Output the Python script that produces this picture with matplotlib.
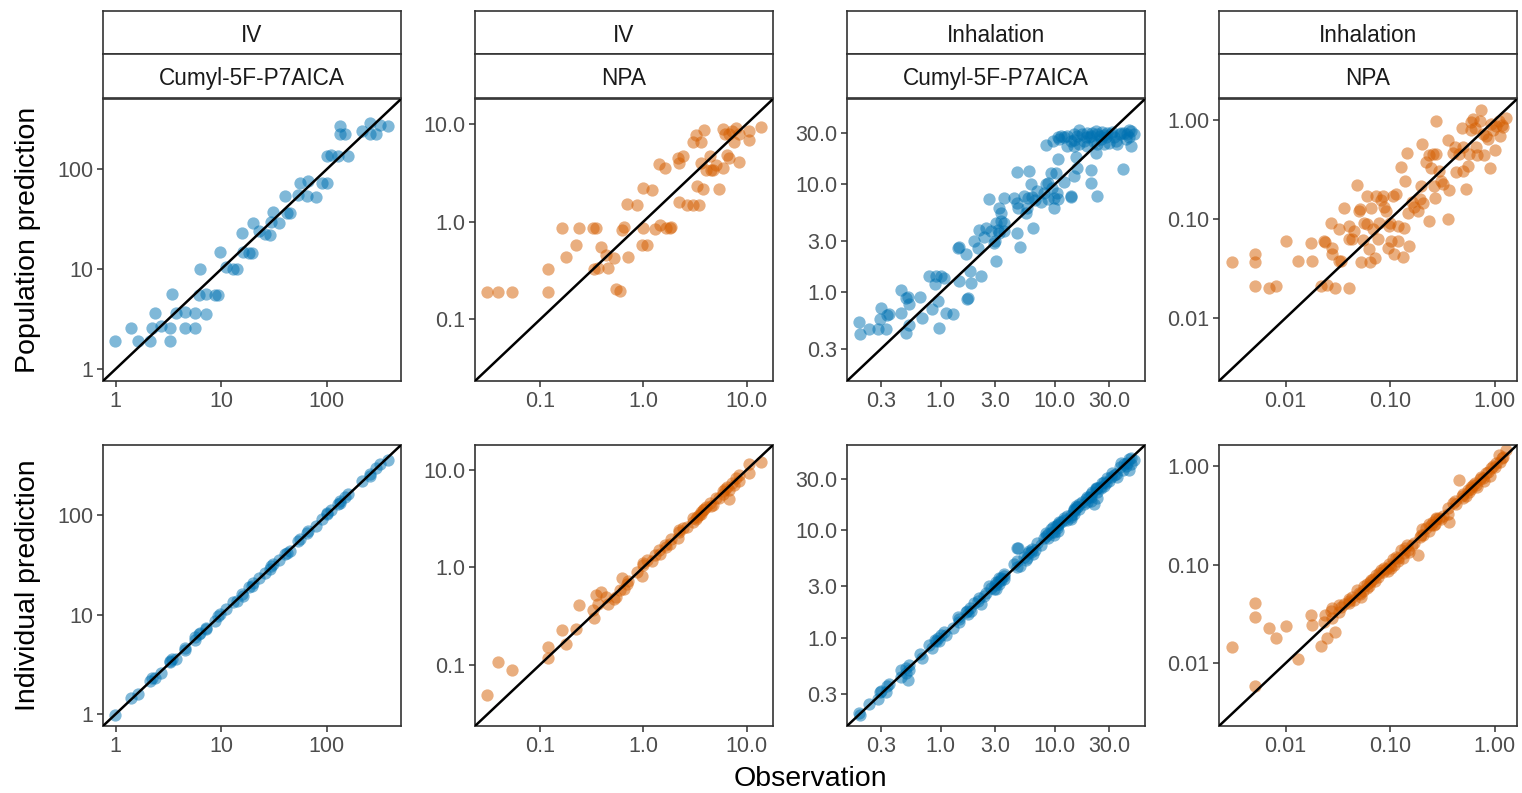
import numpy as np
import matplotlib
matplotlib.use("Agg")
import matplotlib.pyplot as plt

plt.rcParams['font.family'] = ['Liberation Sans', 'DejaVu Sans']

# facet labels
routes = ["IV", "IV", "Inhalation", "Inhalation"]
compounds = ["Cumyl-5F-P7AICA", "NPA", "Cumyl-5F-P7AICA", "NPA"]
colors = ["#0072B2", "#D55E00", "#0072B2", "#D55E00"]

# IV / Cumyl-5F-P7AICA
obs1 = [0.98, 1.41, 1.63, 2.1, 2.2, 2.34, 2.7, 3.26, 3.3, 3.45, 3.7, 4.5, 4.5, 5.7, 5.6,
        6.2, 7.25, 6.3, 7.25, 8.7, 9.4, 9.7, 11.2, 13, 14, 15.9, 16, 18.4, 19.5, 20,
        23, 26, 29, 30, 31, 35, 40, 42, 45, 56, 54, 65, 67, 79, 90, 100, 100, 111, 129,
        134, 134, 149, 161, 215, 257, 257, 293, 320, 385]
pop1 = [1.89, 2.6, 1.89, 1.89, 2.6, 3.6, 2.7, 1.89, 2.6, 5.6, 3.6, 3.7, 2.6, 3.6, 2.6,
        5.5, 3.55, 10.0, 5.7, 5.5, 5.5, 14.8, 10.6, 10, 10, 23, 15, 14.6, 14.4, 29,
        24, 22.5, 22, 29.6, 37, 29, 54, 36.5, 36.5, 73, 56, 54, 77, 53, 73, 73, 136, 141, 136,
        273, 225, 225, 136, 244, 290, 228, 228, 280, 273]
ind1 = [0.97, 1.45, 1.6, 2.15, 2.3, 2.3, 2.6, 3.3, 3.4, 3.6, 3.6, 4.6, 4.4, 5.9, 5.5,
        6.4, 7.1, 6.6, 7.4, 8.6, 9.6, 10.2, 11.5, 13.3, 13.6, 16.2, 15.5, 18.8, 19.2, 21,
        23.5, 26.5, 28.5, 31, 32, 35.5, 41, 42, 44, 58, 55, 66, 69, 78, 92, 102, 104, 113, 131,
        140, 133, 152, 164, 222, 262, 250, 300, 330, 360]

# IV / NPA
obs2 = [0.0306, 0.039, 0.054, 0.12, 0.12, 0.164, 0.18, 0.224, 0.237, 0.324, 0.35, 0.33, 0.366, 0.385, 0.43,
        0.45, 0.52, 0.547, 0.6, 0.625, 0.65, 0.715, 0.7, 0.87, 0.96, 1.0, 1.0, 1.09, 1.22, 1.3,
        1.42, 1.44, 1.62, 1.65, 1.8, 1.84, 2.14, 2.2, 2.22, 2.43, 2.67, 3.0, 3.22, 3.0, 3.27,
        3.47, 3.6, 3.6, 3.88, 3.74, 4.0, 4.4, 4.5, 5.0, 5.35, 5.9, 5.9, 6.2, 6.5, 6.8,
        7.2, 7.6, 7.9, 8.5, 8.5, 10.6, 10.6, 13.8, 6.7, 4.75]
pop2 = [0.191, 0.191, 0.191, 0.191, 0.33, 0.855, 0.43, 0.576, 0.87, 0.855, 0.87, 0.33, 0.336, 0.55, 0.455,
        0.336, 0.42, 0.206, 0.194, 0.82, 0.89, 0.43, 1.5, 1.48, 0.576, 0.855, 2.2, 0.576, 2.1, 0.84,
        3.9, 0.92, 3.5, 0.87, 0.87, 0.89, 4.5, 1.58, 3.97, 4.65, 1.48, 1.48, 7.65, 6.5, 2.29,
        1.48, 6.6, 3.97, 8.7, 2.17, 3.4, 4.65, 3.4, 3.8, 2.15, 3.5, 8.95, 7.9, 4.77, 7.8,
        8.5, 6.6, 9.1, 7.8, 4.1, 8.5, 6.9, 9.3, 4.5, 3.4]
ind2 = [0.049, 0.107, 0.088, 0.118, 0.153, 0.227, 0.164, 0.234, 0.41, 0.36, 0.52, 0.3, 0.42, 0.55, 0.5,
        0.42, 0.47, 0.5, 0.58, 0.77, 0.6, 0.72, 0.68, 0.9, 0.82, 1.05, 1.1, 1.2, 1.15, 1.35,
        1.5, 1.38, 1.7, 1.6, 1.75, 1.95, 2.0, 2.4, 2.3, 2.5, 2.6, 2.9, 3.1, 3.2, 3.3,
        3.4, 3.7, 3.5, 4.0, 3.9, 4.2, 4.6, 4.3, 5.2, 5.1, 6.0, 5.6, 6.3, 6.6, 6.2,
        7.3, 7.0, 8.2, 7.6, 8.8, 11.5, 9.2, 12.0, 5.0, 4.4]

# Inhalation / Cumyl-5F-P7AICA
obs3 = [0.192, 0.196, 0.235, 0.278, 0.293, 0.3, 0.33, 0.336, 0.35, 0.45, 0.45, 0.49, 0.51, 0.53, 0.49,
        0.53, 0.66, 0.68, 0.79, 0.9, 0.83, 0.89, 0.97, 0.95, 1.0, 1.07, 1.1, 1.27, 1.45, 1.74,
        1.71, 1.8, 1.83, 1.42, 1.45, 1.66, 1.96, 2.14, 2.24, 2.17, 2.48, 2.4, 2.75, 2.94, 3.04,
        2.97, 3.04, 3.18, 3.25, 3.36, 3.6, 3.55, 3.25, 3.36, 2.65, 3.55, 4.7, 5.0, 6.4, 4.4,
        4.65, 4.76, 5.38, 5.67, 5.8, 5.57, 6.35, 6.7, 7.0, 7.5, 8.1, 8.35, 8.74, 9.5, 9.85,
        9.85, 10.4, 8.74, 4.7, 5.9, 6.15, 9.2, 10.2, 10.6, 12.1, 13.8, 14, 14.8, 15.8, 15.3,
        21, 20.7, 23.4, 23, 40, 8.35, 9.7, 10.9, 12.1, 12.9, 13.8, 14.8, 15.8, 16.3, 17.5,
        18.1, 19.1, 20, 21.4, 22.2, 23.7, 25, 26.1, 28, 29, 31, 33, 35.5, 37.5, 40.5,
        43, 44.8, 46.4, 47, 49.7, 12.9, 14.8, 19.1, 23.7, 27, 30, 10.6, 11.3, 16.3, 20.8,
        25.3, 32, 42, 34.3, 23, 18.8, 14.8, 27, 38, 44.8, 10.6]
pop3 = [0.525, 0.41, 0.46, 0.46, 0.565, 0.72, 0.46, 0.62, 0.63, 1.04, 0.64, 0.89, 0.91, 0.77, 0.42,
        0.5, 0.91, 0.58, 1.4, 1.4, 0.7, 1.19, 0.47, 0.82, 1.4, 1.35, 0.64, 0.63, 1.27, 0.89,
        0.87, 1.56, 1.21, 2.57, 2.6, 2.26, 2.97, 2.57, 1.4, 3.8, 3.95, 3.23, 3.7, 2.86, 1.93,
        2.96, 4.4, 3.8, 3.55, 4.55, 4.4, 3.68, 6.06, 5.45, 7.4, 7.5, 3.55, 2.6, 3.9, 7.5,
        6.75, 6.06, 7.8, 6.06, 7.5, 5.45, 7.6, 7.1, 8.67, 6.9, 8.4, 10.0, 10.4, 9.3, 6.06,
        7.5, 8.4, 7.3, 13.1, 13.3, 10.0, 12.8, 12.8, 7.3, 10.6, 7.6, 7.8, 12, 14.3, 18,
        13.5, 10.3, 7.8, 19.7, 13.8, 23.3, 25.3, 26.6, 27.3, 28.2, 25.3, 29.6, 28.2, 23.6, 29.2,
        25.3, 30.3, 27.3, 30.3, 24.5, 29.6, 28.2, 30.9, 27.3, 30.3, 29.2, 27.3, 23.6, 29.2, 30.3,
        29.6, 27.6, 31.4, 22.8, 29.2, 22.8, 22.8, 22.8, 23.6, 23.6, 24, 27.3, 28.2, 31.7, 28.2,
        26.2, 30.9, 26.2, 25.3, 31.4, 27.3, 26, 28.8, 30.3, 31.7, 17.1]
ind3 = [0.2, 0.19, 0.24, 0.27, 0.31, 0.32, 0.31, 0.35, 0.37, 0.5, 0.43, 0.52, 0.4, 0.56, 0.47,
        0.5, 0.7, 0.64, 0.85, 0.92, 0.8, 0.95, 0.93, 0.98, 1.05, 1.12, 1.05, 1.22, 1.5, 1.65,
        1.75, 1.9, 1.78, 1.55, 1.4, 1.72, 2.1, 2.2, 2.05, 2.35, 2.6, 2.45, 2.9, 2.8, 2.85,
        3.05, 3.3, 3.3, 3.15, 3.55, 3.75, 3.5, 3.6, 3.45, 3.0, 3.9, 4.5, 4.6, 6.0, 4.8,
        6.85, 6.8, 5.6, 5.5, 6.1, 5.3, 6.6, 6.5, 7.6, 7.2, 8.4, 8.9, 9.2, 9.6, 9.0,
        9.5, 10.5, 8.4, 5.2, 6.4, 6.3, 10.2, 10.9, 9.8, 12.4, 12.6, 13.2, 15.4, 16.5, 16.6,
        20.5, 18.5, 20, 24.5, 36, 9.3, 10.6, 11.8, 12.9, 13.6, 13.9, 15.8, 16.3, 15.6, 18.3,
        17.6, 20.2, 20.3, 22.5, 17.6, 24.6, 25.2, 27.5, 27.4, 30.5, 31.2, 32.5, 31.5, 38.5, 41.5,
        42, 36, 47, 41, 45, 12.4, 14.2, 18.2, 22.4, 25.6, 28.5, 11.3, 12, 17.6, 21.5,
        24.6, 34, 39.5, 33, 24.2, 19.5, 15.1, 28, 42, 46, 11.1]

# Inhalation / NPA
obs4 = [0.00303, 0.00508, 0.00508, 0.00508, 0.0069, 0.0081, 0.01, 0.0132, 0.0174, 0.018, 0.0217, 0.025, 0.03, 0.0407, 0.0235,
        0.024, 0.027, 0.0275, 0.028, 0.0325, 0.0336, 0.0325, 0.0363, 0.04, 0.0407, 0.0436, 0.045, 0.0487, 0.0506, 0.051,
        0.0524, 0.0547, 0.0565, 0.0595, 0.06, 0.0633, 0.064, 0.0655, 0.069, 0.072, 0.073, 0.076, 0.079, 0.082, 0.085,
        0.088, 0.0915, 0.095, 0.098, 0.1, 0.102, 0.106, 0.11, 0.114, 0.118, 0.12, 0.127, 0.132, 0.137, 0.14,
        0.144, 0.147, 0.153, 0.162, 0.17, 0.183, 0.193, 0.197, 0.2, 0.205, 0.22, 0.235, 0.238, 0.246, 0.256,
        0.265, 0.27, 0.276, 0.276, 0.296, 0.308, 0.319, 0.356, 0.356, 0.37, 0.404, 0.42, 0.43, 0.46, 0.49,
        0.496, 0.5, 0.535, 0.555, 0.567, 0.597, 0.597, 0.62, 0.655, 0.667, 0.677, 0.718, 0.745, 0.773, 0.8,
        0.832, 0.863, 0.908, 0.93, 0.964, 1.0, 1.04, 1.1, 1.13, 1.18, 1.29, 1.2]
pop4 = [0.037, 0.044, 0.037, 0.021, 0.0203, 0.021, 0.06, 0.038, 0.057, 0.038, 0.021, 0.0214, 0.02, 0.02, 0.06,
        0.058, 0.092, 0.044, 0.051, 0.038, 0.0378, 0.079, 0.13, 0.063, 0.086, 0.063, 0.076, 0.223, 0.122, 0.126,
        0.0364, 0.061, 0.092, 0.172, 0.089, 0.0497, 0.0364, 0.13, 0.079, 0.04, 0.172, 0.063, 0.092, 0.156, 0.172,
        0.131, 0.12, 0.051, 0.086, 0.092, 0.06, 0.172, 0.044, 0.178, 0.06, 0.086, 0.339, 0.041, 0.082, 0.24,
        0.464, 0.116, 0.054, 0.148, 0.131, 0.122, 0.159, 0.218, 0.575, 0.144, 0.376, 0.096, 0.446, 0.33, 0.455,
        0.218, 0.163, 0.455, 0.99, 0.31, 0.24, 0.227, 0.63, 0.1, 0.195, 0.47, 0.54, 0.3, 0.455, 0.84,
        0.54, 0.31, 0.2, 0.345, 0.455, 0.95, 0.79, 1.03, 0.84, 0.54, 0.44, 0.99, 1.27, 0.72, 0.44,
        0.7, 0.65, 0.33, 0.91, 0.79, 0.5, 0.88, 0.99, 0.7, 0.9, 1.05, 0.85]
ind4 = [0.0146, 0.041, 0.0295, 0.0059, 0.023, 0.0178, 0.024, 0.011, 0.0306, 0.0245, 0.015, 0.018, 0.0205, 0.041, 0.026,
        0.031, 0.034, 0.029, 0.036, 0.033, 0.037, 0.039, 0.04, 0.043, 0.045, 0.047, 0.044, 0.055, 0.052, 0.05,
        0.047, 0.054, 0.06, 0.064, 0.058, 0.06, 0.066, 0.07, 0.072, 0.068, 0.078, 0.075, 0.082, 0.088, 0.084,
        0.093, 0.09, 0.086, 0.102, 0.098, 0.093, 0.115, 0.1, 0.12, 0.108, 0.118, 0.14, 0.118, 0.13, 0.148,
        0.16, 0.14, 0.135, 0.16, 0.165, 0.125, 0.19, 0.2, 0.23, 0.2, 0.235, 0.22, 0.26, 0.25, 0.27,
        0.255, 0.26, 0.29, 0.3, 0.3, 0.29, 0.31, 0.38, 0.33, 0.27, 0.42, 0.44, 0.41, 0.73, 0.5,
        0.52, 0.47, 0.5, 0.57, 0.55, 0.62, 0.58, 0.65, 0.67, 0.64, 0.62, 0.74, 0.78, 0.76, 0.7,
        0.85, 0.88, 0.8, 0.95, 1.0, 0.98, 1.08, 1.3, 1.1, 1.22, 1.45, 1.25]

obs = [obs1, obs2, obs3, obs4]
pop = [pop1, pop2, pop3, pop4]
ind = [ind1, ind2, ind3, ind4]

lims = [(0.757, 508), (0.0234, 18.0), (0.15, 62), (0.0023, 1.64)]
ticks = [[1, 10, 100], [0.1, 1.0, 10.0], [0.3, 1.0, 3.0, 10.0, 30.0], [0.01, 0.10, 1.00]]
ticklabels = [["1", "10", "100"], ["0.1", "1.0", "10.0"],
              ["0.3", "1.0", "3.0", "10.0", "30.0"], ["0.01", "0.10", "1.00"]]

W, H = 1522, 793
fig = plt.figure(figsize=(W / 100, H / 100), dpi=100)

def px_axes(x0, y0, x1, y1):
    return fig.add_axes([x0 / W, 1 - y1 / H, (x1 - x0) / W, (y1 - y0) / H])

frame = "#333333"
lefts = [103, 475, 847, 1219]
pw = 298
rows = [(99, 381), (445, 726)]

for c in range(4):
    x0 = lefts[c]
    x1 = x0 + pw
    # strips
    for (sy0, sy1, txt) in [(11, 54, routes[c]), (54, 98, compounds[c])]:
        sax = px_axes(x0, sy0, x1, sy1)
        sax.set_xticks([])
        sax.set_yticks([])
        for sp in sax.spines.values():
            sp.set_color(frame)
            sp.set_linewidth(1.2)
        sax.text(0.5, 0.44, txt, ha="center", va="center", fontsize=16.3,
                 color="#1A1A1A", transform=sax.transAxes)
    for r, ydata in enumerate([pop[c], ind[c]]):
        ax = px_axes(x0, rows[r][0], x1, rows[r][1])
        ax.set_xscale("log")
        ax.set_yscale("log")
        lo, hi = lims[c]
        ax.set_xlim(lo, hi)
        ax.set_ylim(lo, hi)
        ax.scatter(obs[c], ydata, s=78, color=colors[c], alpha=0.5, linewidths=0, zorder=2)
        ax.axline((lo, lo), (hi, hi), color="black", lw=1.8, zorder=3)
        ax.minorticks_off()
        ax.set_xticks(ticks[c])
        ax.set_xticklabels(ticklabels[c])
        ax.set_yticks(ticks[c])
        ax.set_yticklabels(ticklabels[c])
        ax.tick_params(labelsize=15.5, labelcolor="#4D4D4D", color=frame,
                       length=4, width=1.1, pad=3)
        for sp in ax.spines.values():
            sp.set_color(frame)
            sp.set_linewidth(1.2)

fig.text(28 / W, 1 - 240 / H, "Population prediction", rotation=90,
         ha="center", va="center", fontsize=20.5, color="black")
fig.text(28 / W, 1 - 585 / H, "Individual prediction", rotation=90,
         ha="center", va="center", fontsize=20.5, color="black")
fig.text(810 / W, 1 - 779 / H, "Observation", ha="center", va="center",
         fontsize=20.5, color="black")

fig.savefig("out.png", dpi=100)
